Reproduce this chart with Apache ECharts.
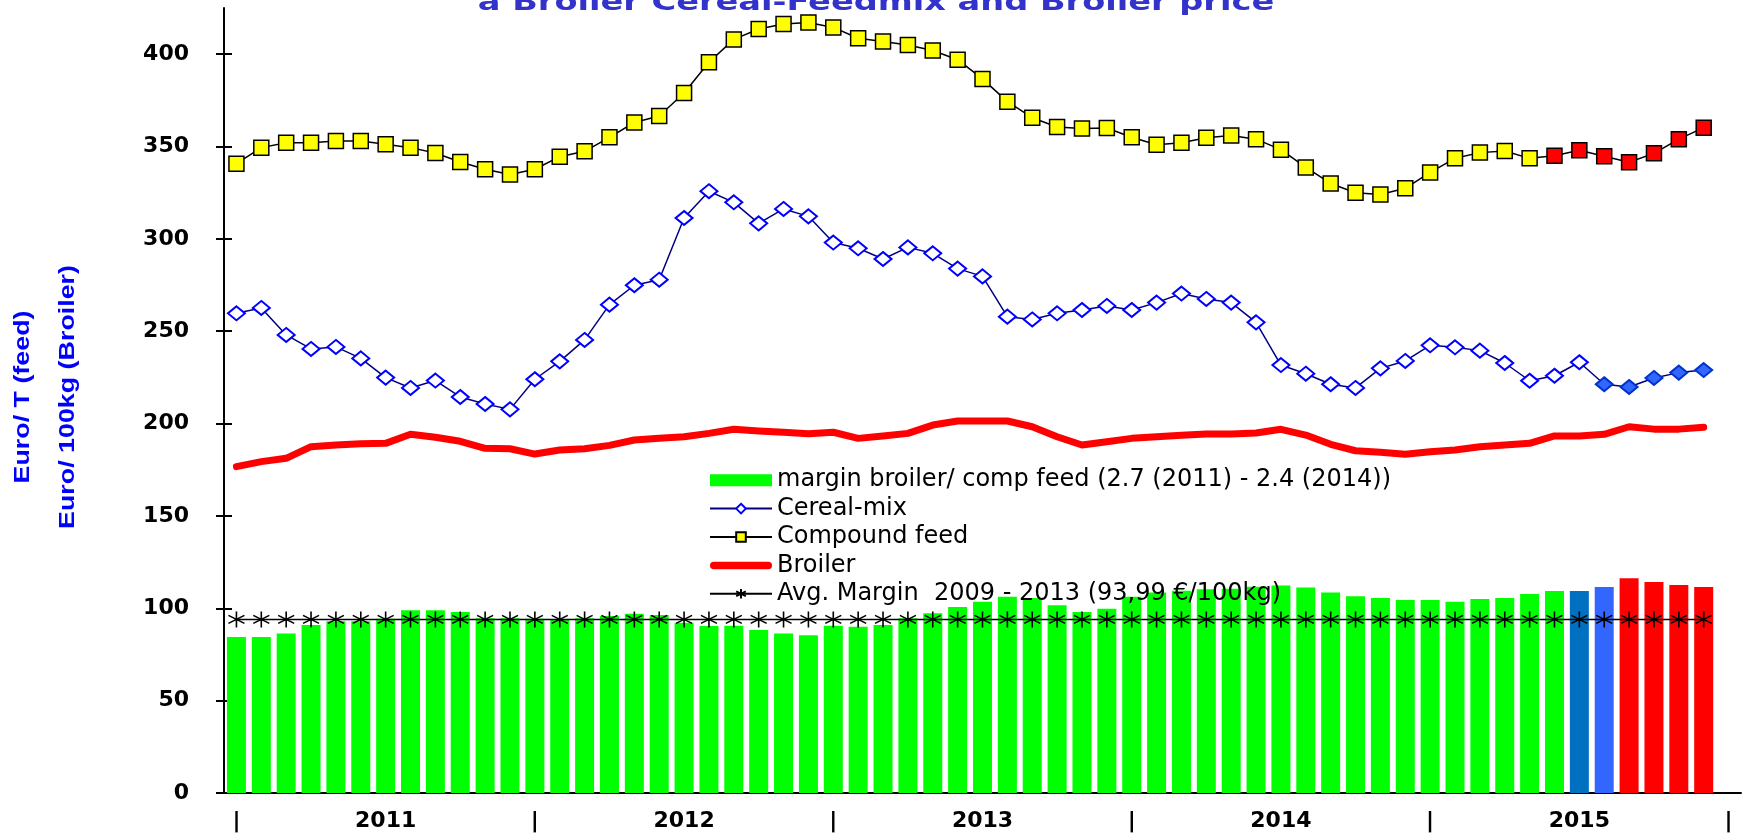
<!DOCTYPE html>
<html>
<head>
<meta charset="utf-8">
<script src="https://cdn.jsdelivr.net/npm/echarts@6/dist/echarts.min.js"></script>
<style>
  html, body { margin: 0; padding: 0; background: #fff; }
  #chart { width: 1742px; height: 834px; }
</style>
</head>
<body>
<div id="chart"></div>
<script>
// monthly slots jan 2011 .. jan 2016 (the last slot stays empty)
const months = [];
for (let y = 2011; y <= 2016; y++) {
  for (let m = 1; m <= 12; m++) {
    if (y === 2016 && m > 1) break;
    months.push(y + '-' + (m < 10 ? '0' + m : m));
  }
}

const yTicks = [0, 50, 100, 150, 200, 250, 300, 350, 400];

// Euro/T
const compoundFeed = [
  340.7, 349.4, 352.1, 352.1, 353, 353, 351.2, 349.4, 346.5, 341.6, 337.7, 334.8,
  337.7, 344.5, 347.4, 355, 363, 366.5, 379, 395.6, 408, 413.6, 416.3, 417.2,
  414.5, 408.6, 406.8, 405, 402, 397, 386.6, 374.3, 365.6, 360.6, 359.7, 360,
  355, 351, 352, 354.8, 356, 354, 348.3, 338.7, 330, 325, 324, 327.4,
  336, 343.6, 346.7, 347.6, 343.6, 345, 348, 344.7, 341.5, 346.3, 354, 360.2
];

const cerealMix = [
  259.7, 262.6, 248, 240.4, 241.5, 235.3, 224.9, 219.3, 223.3, 214.4, 210.6, 207.7,
  224, 233.7, 245.3, 264.4, 274.9, 277.9, 311.3, 325.8, 319.8, 308.4, 316.2, 312.2,
  298, 294.9, 289.1, 295.4, 292.2, 283.9, 279.7, 257.9, 256.4, 259.7, 261.5, 263.7,
  261.5, 265.5, 270.4, 267.5, 265.5, 254.8, 231.7, 227, 221.3, 219.3, 229.9, 233.9,
  242.4, 241.3, 239.5, 232.8, 223.2, 225.9, 233.2, 221.3, 219.8, 224.7, 227.6, 229
];

// Euro/100kg
const broiler = [
  176.7, 179.4, 181.2, 187.5, 188.4, 189.1, 189.3, 194.2, 192.6, 190.4, 186.6, 186.4,
  183.5, 185.7, 186.4, 188.2, 191.1, 192, 192.9, 194.7, 196.9, 196, 195.3, 194.5,
  195.3, 192, 193.3, 194.7, 199.2, 201.4, 201.4, 201.4, 198.3, 192.9, 188.4, 190.2,
  192, 192.9, 193.7, 194.4, 194.4, 194.9, 196.9, 193.8, 188.8, 185.3, 184.5, 183.4,
  184.8, 185.7, 187.5, 188.4, 189.3, 193.3, 193.3, 194.2, 198.3, 197, 197, 198
];

const margin = [
  84.5, 84.5, 86.3, 91, 93, 93, 94.4, 98.9, 98.9, 98, 94.6, 94.6,
  94.4, 93.7, 94.6, 95.8, 97.1, 96.4, 92.2, 90.4, 90.6, 88.3, 86.3, 85.4,
  90.6, 90, 91, 94.6, 97.3, 100.7, 103.6, 106.3, 105.6, 101.6, 98, 99.8,
  106.3, 108.5, 109.5, 110.3, 110.6, 111.7, 112.4, 111.2, 108.5, 106.5, 105.6, 104.5,
  104.5, 103.6, 105, 105.6, 107.7, 109.4, 109.4, 111.5, 116.2, 114.2, 112.6, 111.5
];

const avgMargin = 93.99;

const names = {
  margin: 'margin broiler/ comp feed (2.7 (2011) - 2.4 (2014))',
  cereal: 'Cereal-mix',
  compound: 'Compound feed',
  broiler: 'Broiler',
  avg: 'Avg. Margin  2009 - 2013 (93,99 €/100kg)'
};

// last months are drawn in other colours
const barColor = i => i >= 56 ? '#FF0000' : i === 55 ? '#3366FF' : i === 54 ? '#0070C0' : '#00FF00';

const starPath = 'path://M10,0L10,20M1.3,5L18.7,15M1.3,15L18.7,5';
// thick rounded stroke for the broiler legend entry
const thickLine = 'path://M4,0L62,0A4,4,0,0,1,62,8L4,8A4,4,0,0,1,4,0Z';
const tickFont = { fontFamily: 'DejaVu Sans', fontWeight: 'bold', fontSize: 22, color: '#000' };

const chart = echarts.init(document.getElementById('chart'));

chart.setOption({
  animation: false,
  grid: { left: 224, right: 1, top: 8, bottom: 41 },
  legend: {
    orient: 'vertical',
    left: 704,
    top: 461,
    itemWidth: 62,
    itemHeight: 12,
    itemGap: 0,
    selectedMode: false,
    textStyle: { fontFamily: 'DejaVu Sans', fontSize: 24, color: '#000', lineHeight: 28.4 },
    data: [
      { name: names.margin, icon: 'rect' },
      names.cereal,
      names.compound,
      { name: names.broiler, icon: thickLine, itemStyle: { color: '#FF0000', borderWidth: 0 } },
      names.avg
    ]
  },
  graphic: [
    {
      type: 'text', x: 876, y: 4, scaleX: 1.4, silent: true,
      style: { text: 'a Broiler Cereal-Feedmix and Broiler price', font: 'bold 24px "DejaVu Sans"',
        fill: '#3333CC', textAlign: 'center', textVerticalAlign: 'middle' }
    },
    {
      type: 'text', x: 23, y: 397, rotation: Math.PI / 2, scaleX: 1.22, silent: true,
      style: { text: 'Euro/ T (feed)', font: 'bold 22px "Liberation Sans"', fill: '#0000FF',
        textAlign: 'center', textVerticalAlign: 'middle' }
    },
    {
      type: 'text', x: 68, y: 397, rotation: Math.PI / 2, scaleX: 1.22, silent: true,
      style: { text: 'Euro/ 100kg (Broiler)', font: 'bold 22px "Liberation Sans"', fill: '#0000FF',
        textAlign: 'center', textVerticalAlign: 'middle' }
    }
  ],
  xAxis: [
    {
      type: 'category', data: months, position: 'bottom', offset: 0,
      axisLine: { lineStyle: { color: '#000', width: 2 } },
      axisTick: { interval: 5, length: 6, lineStyle: { color: '#000', width: 2 } },
      axisLabel: Object.assign({
        interval: 5, margin: 17,
        formatter: (v, idx) => idx % 12 === 0 ? '|' : v.slice(0, 4)
      }, tickFont)
    },
    {
      // second copy only for the ticks that point inwards
      type: 'category', data: months, position: 'bottom', offset: 0,
      axisLine: { show: false },
      axisTick: { inside: true, interval: 5, length: 11, lineStyle: { color: '#000', width: 2 } },
      axisLabel: { show: false }
    }
  ],
  yAxis: [
    {
      type: 'value', min: 0, max: 425, interval: 50, position: 'left', offset: 0,
      splitLine: { show: false },
      axisLine: { show: true, lineStyle: { color: '#000', width: 2 } },
      axisTick: { show: true, length: 8, customValues: yTicks, lineStyle: { color: '#000', width: 2 } },
      axisLabel: Object.assign({ margin: 35, customValues: yTicks }, tickFont)
    },
    {
      type: 'value', min: 0, max: 425, interval: 50, position: 'left', offset: 0,
      splitLine: { show: false },
      axisLine: { show: false },
      axisTick: { show: true, inside: true, length: 8, customValues: yTicks, lineStyle: { color: '#000', width: 2 } },
      axisLabel: { show: false }
    }
  ],
  series: [
    {
      name: names.margin, type: 'bar', barWidth: 19, silent: true,
      itemStyle: { color: '#00FF00' },
      data: margin.map((v, i) => ({ value: v, itemStyle: { color: barColor(i) } }))
    },
    {
      name: names.avg, type: 'line', silent: true,
      data: margin.map(() => avgMargin),
      symbol: starPath, symbolSize: 16,
      lineStyle: { color: '#000', width: 1.5 },
      itemStyle: { color: '#000', borderColor: '#000', borderWidth: 1.6 }
    },
    {
      name: names.broiler, type: 'line', silent: true, symbol: 'none',
      data: broiler,
      lineStyle: { color: '#FF0000', width: 7, cap: 'round', join: 'round' },
      itemStyle: { color: '#FF0000' }
    },
    {
      name: names.compound, type: 'line', silent: true,
      symbol: 'rect', symbolSize: 15,
      data: compoundFeed.map((v, i) => i >= 53 ? { value: v, itemStyle: { color: '#FF0000' } } : v),
      lineStyle: { color: '#000', width: 1.5 },
      itemStyle: { color: '#FFFF00', borderColor: '#000', borderWidth: 1.5 }
    },
    {
      name: names.cereal, type: 'line', silent: true,
      symbol: 'diamond', symbolSize: [17, 14],
      data: cerealMix.map((v, i) => i >= 55 ? { value: v, itemStyle: { color: '#3366FF', borderColor: '#0033CC' } } : v),
      lineStyle: { color: '#000080', width: 1.5 },
      itemStyle: { color: '#FFFFFF', borderColor: '#0000FF', borderWidth: 2 }
    }
  ]
});
</script>
</body>
</html>
